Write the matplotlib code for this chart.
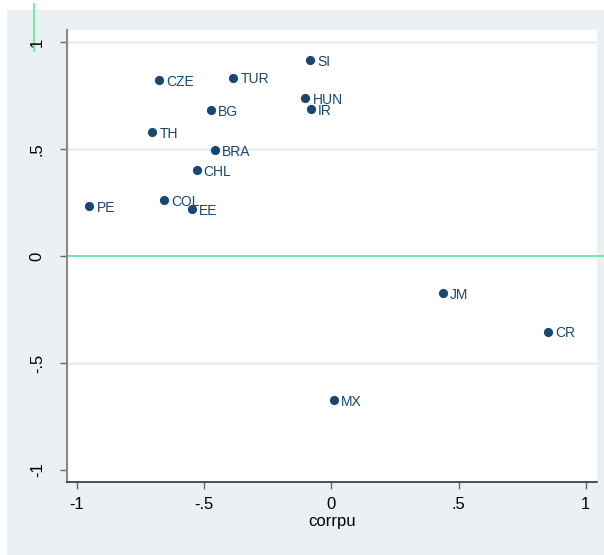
import matplotlib
matplotlib.use("Agg")
import matplotlib.pyplot as plt
from matplotlib.patches import Rectangle
from matplotlib.lines import Line2D

plt.rcParams['font.family'] = ['Liberation Sans', 'DejaVu Sans']

# country codes and their values
countries = ['SI', 'CZE', 'TUR', 'HUN', 'IR', 'BG', 'TH', 'BRA', 'CHL',
             'PE', 'COL', 'EE', 'JM', 'CR', 'MX']
corrpu = [-0.083, -0.676, -0.385, -0.102, -0.081, -0.473, -0.704, -0.458, -0.530,
          -0.951, -0.659, -0.549, 0.437, 0.853, 0.010]
yval = [0.915, 0.823, 0.833, 0.737, 0.687, 0.680, 0.580, 0.496, 0.402,
        0.234, 0.262, 0.220, -0.173, -0.354, -0.675]

xticks = [-1, -0.5, 0, 0.5, 1]
xtick_labels = ['-1', '-.5', '0', '.5', '1']
yticks = [-1, -0.5, 0, 0.5, 1]
ytick_labels = ['-1', '-.5', '0', '.5', '1']

navy = '#1a476f'
bg = '#eaf0f3'
green = '#5ee89e'

fig = plt.figure(figsize=(6.04, 5.55), dpi=100)
fig.patch.set_facecolor('white')
# outer shaded region of the graph
fig.add_artist(Rectangle((7 / 604, 0), 1, 545 / 555, transform=fig.transFigure,
                         facecolor=bg, edgecolor='none', zorder=-10))
fig.add_artist(Line2D([34 / 604, 34 / 604], [551 / 555, 504 / 555],
                      transform=fig.transFigure, color=green, lw=1.2, zorder=-5))

ax = fig.add_axes([67 / 604, 73 / 555, 529.5 / 604, 452 / 555])
ax.set_zorder(1)
ax.set_facecolor('white')
ax.set_xlim(-1.039, 1.042)
ax.set_ylim(-1.056, 1.056)

for yt in [-0.5, 0.5, 1]:
    ax.axhline(yt, color='#e6edf0', lw=1.8, zorder=1)
ax.axhline(0, xmin=0, xmax=1.015, color=green, lw=1.3, zorder=2, clip_on=False)

ax.scatter(corrpu, yval, s=44, color=navy, zorder=3, linewidths=0)
for name, x, y in zip(countries, corrpu, yval):
    ax.annotate(name, (x, y), xytext=(5.2, -1.2), textcoords='offset points',
                ha='left', va='center', fontsize=10, color=navy, zorder=4)

ax.set_xticks(xticks)
ax.set_xticklabels(xtick_labels, fontsize=12)
ax.set_yticks(yticks)
ax.set_yticklabels(ytick_labels, fontsize=12, rotation=90, va='center')
ax.tick_params(axis='x', direction='out', length=5, width=1, color='#666666', pad=6)
ax.tick_params(axis='y', direction='out', length=5, width=1, color='#666666', pad=11)
ax.set_xlabel('corrpu', fontsize=12, labelpad=1)

for s in ['top', 'right']:
    ax.spines[s].set_visible(False)
ax.spines['left'].set_color('#888888')
ax.spines['left'].set_linewidth(1.5)
ax.spines['bottom'].set_color('#333333')
ax.spines['bottom'].set_linewidth(1.2)

fig.savefig('out.png', dpi=100, facecolor=fig.get_facecolor())
